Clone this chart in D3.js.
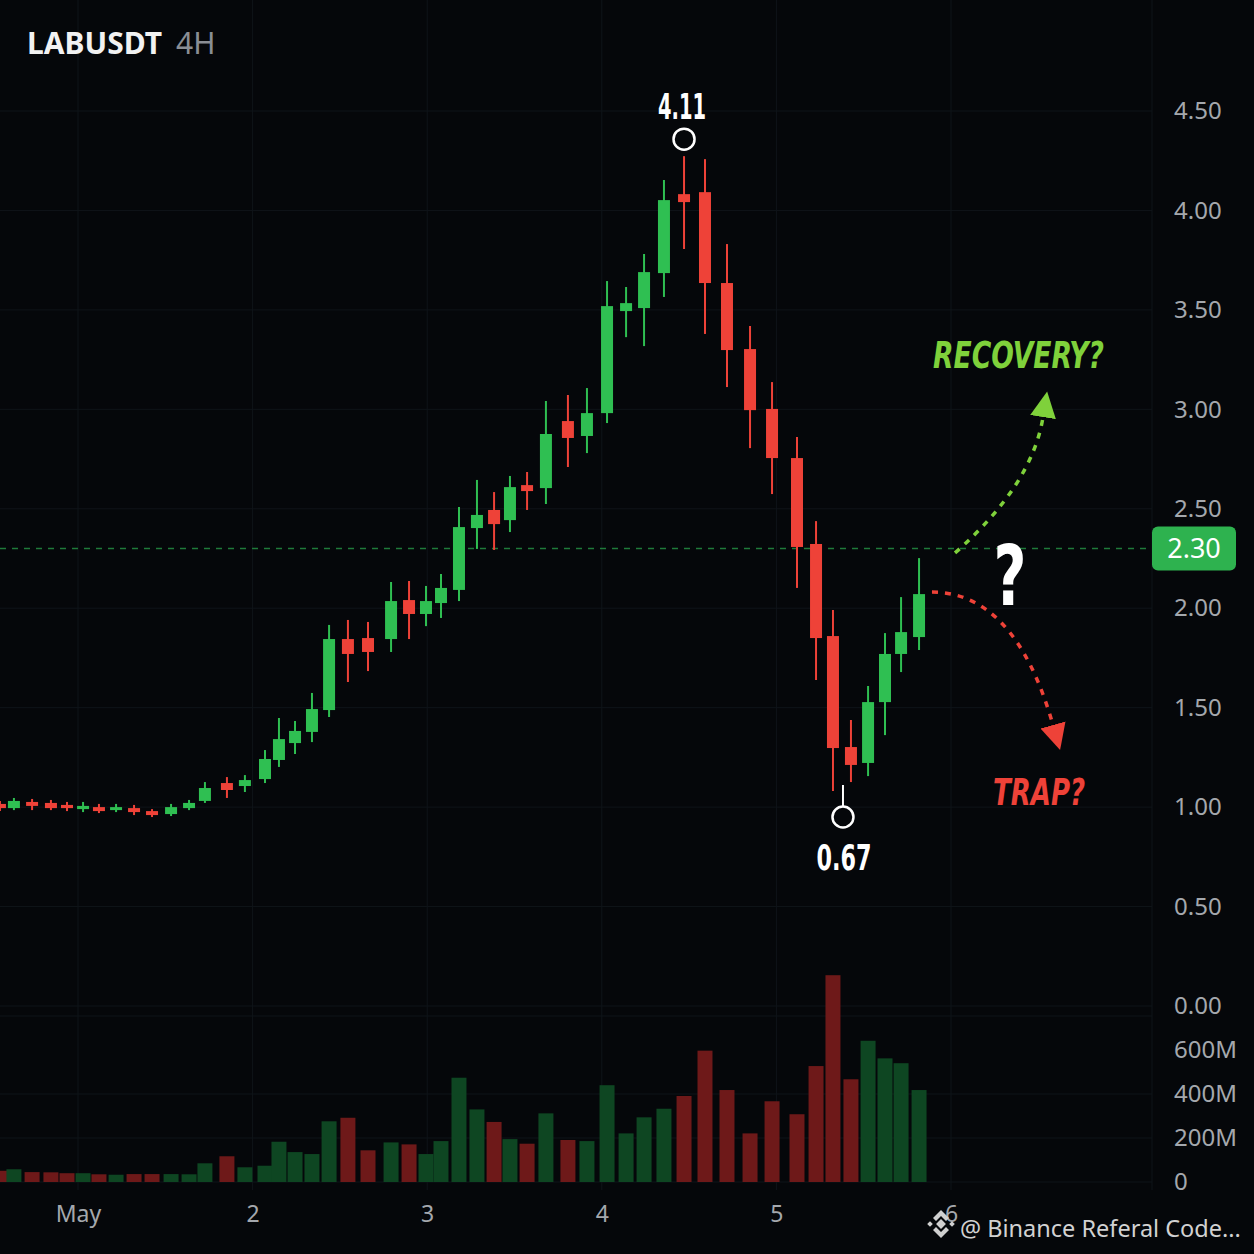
<!DOCTYPE html>
<html>
<head>
<meta charset="utf-8">
<script src="https://cdn.jsdelivr.net/npm/d3@7"></script>
<style>
  html, body { margin: 0; padding: 0; background: #05070a; }
  svg { display: block; }
</style>
</head>
<body>
<svg id="chart" width="1254" height="1254"></svg>
<script>
/* candle times, in days of May (1 = May 1) */
var candleDays = [0.553, 0.633, 0.737, 0.845, 0.937, 1.029, 1.120, 1.218, 1.321, 1.424,
    1.533, 1.636, 1.727, 1.853, 1.956, 2.071, 2.151, 2.243, 2.340, 2.438,
    2.546, 2.661, 2.793, 2.896, 2.993, 3.079, 3.182, 3.285, 3.383, 3.474,
    3.572, 3.680, 3.806, 3.915, 4.030, 4.139, 4.242, 4.356, 4.471, 4.591,
    4.717, 4.849, 4.975, 5.118, 5.227, 5.324, 5.427, 5.525, 5.622, 5.714, 5.817];

var opens = [1.016, 0.995, 1.026, 1.021, 1.011, 0.990, 1.000, 0.985, 0.995, 0.980,
    0.965, 0.995, 1.031, 1.121, 1.106, 1.141, 1.237, 1.322, 1.378, 1.488,
    1.845, 1.850, 1.845, 2.041, 1.971, 2.026, 2.092, 2.403, 2.494, 2.443,
    2.619, 2.604, 2.941, 2.866, 2.981, 3.494, 3.509, 3.685, 4.082, 4.092,
    3.635, 3.303, 3.002, 2.755, 2.323, 1.860, 1.302, 1.222, 1.528, 1.770, 1.855];

var highs = [1.031, 1.046, 1.041, 1.036, 1.026, 1.026, 1.016, 1.016, 1.011, 0.990,
    1.016, 1.036, 1.126, 1.151, 1.161, 1.287, 1.448, 1.433, 1.574, 1.916,
    1.941, 1.931, 2.132, 2.137, 2.112, 2.172, 2.509, 2.645, 2.584, 2.665,
    2.685, 3.042, 3.072, 3.107, 3.645, 3.615, 3.781, 4.153, 4.273, 4.258,
    3.831, 3.419, 3.137, 2.861, 2.438, 1.991, 1.438, 1.609, 1.875, 2.056, 2.252];

var lows = [0.980, 0.985, 0.985, 0.985, 0.980, 0.975, 0.970, 0.975, 0.960, 0.950,
    0.955, 0.985, 1.021, 1.046, 1.076, 1.121, 1.202, 1.267, 1.327, 1.453,
    1.629, 1.684, 1.780, 1.845, 1.910, 1.951, 2.036, 2.298, 2.293, 2.383,
    2.494, 2.524, 2.710, 2.780, 2.931, 3.363, 3.318, 3.565, 3.806, 3.379,
    3.112, 2.805, 2.574, 2.102, 1.639, 1.081, 1.126, 1.156, 1.362, 1.679, 1.790];

var closes = [0.995, 1.031, 1.006, 0.995, 0.995, 1.006, 0.980, 1.000, 0.975, 0.960,
    1.000, 1.021, 1.096, 1.086, 1.136, 1.242, 1.342, 1.383, 1.493, 1.845,
    1.770, 1.780, 2.036, 1.971, 2.036, 2.102, 2.408, 2.469, 2.423, 2.609,
    2.589, 2.876, 2.856, 2.981, 3.519, 3.534, 3.690, 4.052, 4.042, 3.635,
    3.298, 2.996, 2.755, 2.308, 1.850, 1.297, 1.212, 1.528, 1.770, 1.880, 2.071];

/* volume in millions */
var volumes = [51, 58, 45, 44, 40, 40, 35, 33, 36, 36,
    36, 35, 85, 117, 67, 74, 183, 136, 127, 276,
    292, 144, 180, 171, 127, 186, 474, 330, 273, 195,
    174, 312, 191, 186, 440, 221, 294, 333, 391, 597,
    418, 221, 367, 308, 527, 940, 467, 642, 562, 540, 418];

var dayTicks = [1, 2, 3, 4, 5, 6];
var dayLabels = ["May", "2", "3", "4", "5", "6"];
var priceTicks = [0, 0.5, 1, 1.5, 2, 2.5, 3, 3.5, 4, 4.5];
var volumeTicks = [0, 200, 400, 600];

var lastPrice = 2.30;
var peakLabel = "4.11";
var lowLabel = "0.67";

/* annotation arrows: start, control, end as [day, price] */
var recoveryPath = [[6.023, 2.278], [6.464, 2.619], [6.527, 2.961]];
var trapPath = [[5.891, 2.081], [6.367, 2.081], [6.584, 1.413]];

var width = 1254, height = 1254;
var plotRight = 1152;
var upColor = "#2fbf52", downColor = "#ee4238";
var volUpColor = "#0e4622", volDownColor = "#6e1919";

var svg = d3.select("#chart");
svg.append("rect").attr("width", width).attr("height", height).attr("fill", "#05070a");

var x = d3.scaleLinear().domain([1, 6]).range([78, 951]);
var y = d3.scaleLinear().domain([0, 4.5]).range([1006, 111]);
var yVol = d3.scaleLinear().domain([0, 600]).range([1182, 1050]);

var candles = candleDays.map(function(t, i) {
    return { t: t, o: opens[i], h: highs[i], l: lows[i], c: closes[i], v: volumes[i] };
});

/* grid */
var grid = svg.append("g").attr("stroke", "#0f1419").attr("stroke-width", 1);
grid.selectAll(".hg").data(priceTicks).join("line")
    .attr("x1", 0).attr("x2", plotRight)
    .attr("y1", function(d) { return y(d); }).attr("y2", function(d) { return y(d); });
grid.selectAll(".vg").data(volumeTicks.slice(1, 3)).join("line")
    .attr("x1", 0).attr("x2", plotRight)
    .attr("y1", function(d) { return yVol(d); }).attr("y2", function(d) { return yVol(d); });
grid.selectAll(".dg").data(dayTicks).join("line")
    .attr("x1", function(d) { return x(d); }).attr("x2", function(d) { return x(d); })
    .attr("y1", 0).attr("y2", 1190);
grid.append("line").attr("x1", plotRight).attr("x2", plotRight).attr("y1", 0).attr("y2", 1190);
grid.append("line").attr("x1", 0).attr("x2", plotRight).attr("y1", 1016).attr("y2", 1016);
grid.append("line").attr("x1", 0).attr("x2", plotRight).attr("y1", yVol(0)).attr("y2", yVol(0));

/* volume bars */
svg.append("g").selectAll("rect").data(candles).join("rect")
    .attr("x", function(d) { return x(d.t) - 7.5; })
    .attr("width", 15)
    .attr("y", function(d) { return yVol(d.v); })
    .attr("height", function(d) { return yVol(0) - yVol(d.v); })
    .attr("fill", function(d) { return d.c >= d.o ? volUpColor : volDownColor; });

/* current price line */
svg.append("line")
    .attr("x1", 0).attr("x2", plotRight)
    .attr("y1", y(lastPrice)).attr("y2", y(lastPrice))
    .attr("stroke", "#1f7a3a").attr("stroke-width", 1.5)
    .attr("stroke-dasharray", "6,6");

/* candles */
var cg = svg.append("g").selectAll("g").data(candles).join("g")
    .attr("fill", function(d) { return d.c >= d.o ? upColor : downColor; })
    .attr("stroke", function(d) { return d.c >= d.o ? upColor : downColor; });
cg.append("line")
    .attr("x1", function(d) { return x(d.t); }).attr("x2", function(d) { return x(d.t); })
    .attr("y1", function(d) { return y(d.h); }).attr("y2", function(d) { return y(d.l); })
    .attr("stroke-width", 2);
cg.append("rect")
    .attr("stroke", "none")
    .attr("x", function(d) { return x(d.t) - 6; })
    .attr("width", 12)
    .attr("y", function(d) { return y(Math.max(d.o, d.c)); })
    .attr("height", function(d) { return Math.max(2, Math.abs(y(d.o) - y(d.c))); });

/* axes */
var priceAxis = svg.append("g").attr("transform", "translate(1174,0)")
    .call(d3.axisRight(y).tickValues(priceTicks).tickFormat(d3.format(".2f")).tickSize(0).tickPadding(0));
var volAxis = svg.append("g").attr("transform", "translate(1174,0)")
    .call(d3.axisRight(yVol).tickValues(volumeTicks)
        .tickFormat(function(d) { return d ? d + "M" : "0"; }).tickSize(0).tickPadding(0));
var timeAxis = svg.append("g").attr("transform", "translate(0,1203)")
    .call(d3.axisBottom(x).tickValues(dayTicks)
        .tickFormat(function(d, i) { return dayLabels[i]; }).tickSize(0).tickPadding(3));
[priceAxis, volAxis, timeAxis].forEach(function(a) {
    a.select(".domain").remove();
    a.selectAll("text")
        .attr("fill", "#a4a8ad")
        .style("font-family", "'Noto Sans', 'Open Sans', sans-serif")
        .style("font-size", a === timeAxis ? "23px" : "24px");
});

/* last price badge */
svg.append("rect")
    .attr("x", plotRight).attr("y", y(lastPrice) - 22)
    .attr("width", 84).attr("height", 44).attr("rx", 6)
    .attr("fill", "#2eb24f");
svg.append("text")
    .attr("x", plotRight + 42).attr("y", y(lastPrice) + 9)
    .attr("text-anchor", "middle").attr("fill", "#ffffff")
    .style("font-family", "'Noto Sans', sans-serif").style("font-size", "27px")
    .text(d3.format(".2f")(lastPrice));

/* title */
var title = svg.append("text").attr("x", 27).attr("y", 54)
    .style("font-family", "'Noto Sans', sans-serif").style("font-size", "30px");
title.append("tspan").attr("fill", "#f2f2f2").attr("font-weight", "bold").text("LABUSDT");
title.append("tspan").attr("fill", "#8a8e94").attr("dx", 14).text("4H");

/* high / low markers: the top, and the bottom of the sell-off after it */
var cond = "'DejaVu Sans Condensed', 'DejaVu Sans', sans-serif";
var peakIndex = d3.maxIndex(highs);
var peak = candles[peakIndex];
var bottom = candles[peakIndex + d3.minIndex(lows.slice(peakIndex))];
svg.append("circle")
    .attr("cx", x(peak.t)).attr("cy", y(peak.h) - 17).attr("r", 10.5)
    .attr("fill", "#05070a").attr("stroke", "#ffffff").attr("stroke-width", 2.5);
svg.append("text")
    .attr("x", x(peak.t) - 2).attr("y", y(peak.h) - 37)
    .attr("text-anchor", "middle").attr("fill", "#ffffff").attr("font-weight", "bold")
    .attr("textLength", 48).attr("lengthAdjust", "spacingAndGlyphs")
    .style("font-family", cond).style("font-size", "35px")
    .text(peakLabel);
svg.append("line")
    .attr("x1", x(bottom.t) + 10).attr("x2", x(bottom.t) + 10)
    .attr("y1", y(bottom.l) - 6).attr("y2", y(bottom.l) + 15)
    .attr("stroke", "#ffffff").attr("stroke-width", 2);
svg.append("circle")
    .attr("cx", x(bottom.t) + 10).attr("cy", y(bottom.l) + 26).attr("r", 10.5)
    .attr("fill", "#05070a").attr("stroke", "#ffffff").attr("stroke-width", 2.5);
svg.append("text")
    .attr("x", x(bottom.t) + 11).attr("y", y(bottom.l) + 79)
    .attr("text-anchor", "middle").attr("fill", "#ffffff").attr("font-weight", "bold")
    .attr("textLength", 55).attr("lengthAdjust", "spacingAndGlyphs")
    .style("font-family", cond).style("font-size", "35px")
    .text(lowLabel);

/* scenario arrows */
var defs = svg.append("defs");
function arrowMarker(id, color) {
    defs.append("marker")
        .attr("id", id).attr("viewBox", "0 0 10 10")
        .attr("refX", 0).attr("refY", 5)
        .attr("markerWidth", 26).attr("markerHeight", 28)
        .attr("markerUnits", "userSpaceOnUse").attr("orient", "auto")
        .append("path").attr("d", "M0,0L10,5L0,10z").attr("fill", color);
}
arrowMarker("arrowUp", "#7fd13b");
arrowMarker("arrowDown", "#ee4238");

function curve(p) {
    return "M" + x(p[0][0]) + "," + y(p[0][1]) +
        "Q" + x(p[1][0]) + "," + y(p[1][1]) + " " + x(p[2][0]) + "," + y(p[2][1]);
}
svg.append("path").attr("d", curve(recoveryPath))
    .attr("fill", "none").attr("stroke", "#7fd13b").attr("stroke-width", 3.5)
    .attr("stroke-dasharray", "6,7").attr("marker-end", "url(#arrowUp)");
svg.append("path").attr("d", curve(trapPath))
    .attr("fill", "none").attr("stroke", "#ee4238").attr("stroke-width", 3.5)
    .attr("stroke-dasharray", "6,7").attr("marker-end", "url(#arrowDown)");

svg.append("text")
    .attr("x", x(5.897)).attr("y", y(3.208))
    .attr("fill", "#7fd13b").attr("font-weight", "bold").attr("font-style", "italic")
    .attr("textLength", 171).attr("lengthAdjust", "spacingAndGlyphs")
    .style("font-family", cond).style("font-size", "38px")
    .text("RECOVERY?");
svg.append("text")
    .attr("x", x(6.241)).attr("y", y(1.011))
    .attr("fill", "#ee4238").attr("font-weight", "bold").attr("font-style", "italic")
    .attr("textLength", 92).attr("lengthAdjust", "spacingAndGlyphs")
    .style("font-family", cond).style("font-size", "38px")
    .text("TRAP?");
svg.append("text")
    .attr("x", x(6.338)).attr("y", y(2.016))
    .attr("text-anchor", "middle").attr("fill", "#ffffff").attr("font-weight", "bold")
    .attr("textLength", 33).attr("lengthAdjust", "spacingAndGlyphs")
    .style("font-family", cond).style("font-size", "84px")
    .text("?");

/* watermark */
var logo = svg.append("g").attr("transform", "translate(941,1224)").attr("fill", "#d0d0d0");
[[0, 0, 7], [-11, 0, 4], [11, 0, 4]].forEach(function(s) {
    logo.append("rect")
        .attr("x", s[0] - s[2] / 2).attr("y", s[1] - s[2] / 2)
        .attr("width", s[2]).attr("height", s[2])
        .attr("transform", "rotate(45," + s[0] + "," + s[1] + ")");
});
logo.append("path").attr("d", "M-8,-6L0,-14L8,-6L5,-3L0,-8L-5,-3Z");
logo.append("path").attr("d", "M-8,6L0,14L8,6L5,3L0,8L-5,3Z");
svg.append("text")
    .attr("x", 960).attr("y", 1237)
    .attr("fill", "#d2d2d2")
    .style("font-family", "'Noto Sans', sans-serif").style("font-size", "23.5px")
    .text("@ Binance Referal Code...");
</script>
</body>
</html>
